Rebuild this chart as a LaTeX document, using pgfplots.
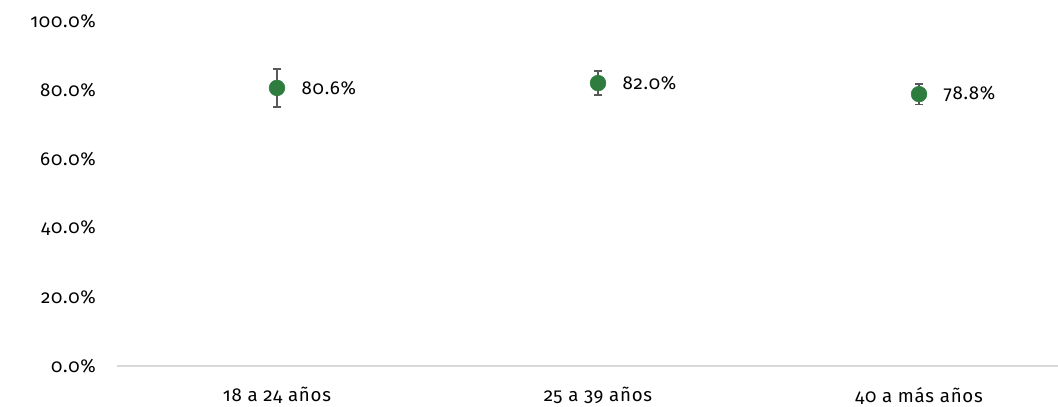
\documentclass[border=0pt]{standalone}
\usepackage{fontspec}
\setmainfont{Fira Sans}[Numbers=OldStyle, LetterSpace=4]
\usepackage{pgfplots}
\pgfplotsset{compat=1.18}
\definecolor{ptgreen}{HTML}{2E7D3F}
\definecolor{errgray}{HTML}{595959}
\definecolor{axgray}{HTML}{D9D9D9}
\newcommand{\lblfont}{\fontsize{14bp}{16bp}\selectfont}
\begin{document}
\begin{tikzpicture}
\path[use as bounding box] (0,0) rectangle (793.5bp,305.25bp);
\begin{axis}[
  at={(87.375bp,30.75bp)}, anchor=south west,
  scale only axis,
  width=706.125bp, height=258.75bp,
  xmin=-0.5, xmax=2.433,
  ymin=0, ymax=100,
  axis x line*=bottom,
  axis y line*=left,
  y axis line style={draw=none},
  x axis line style={draw=axgray, line width=1.2bp, -},
  xtick={0,1,2},
  xticklabels={18 a 24 años, 25 a 39 años, 40 a más años},
  ytick={0,20,40,60,80,100},
  yticklabels={0.0\%, 20.0\%, 40.0\%, 60.0\%, 80.0\%, 100.0\%},
  major tick length=0pt,
  ticklabel style={font=\lblfont, text=black},
  xticklabel style={yshift=-12.5bp},
  yticklabel style={xshift=-12bp},
  clip=false,
]
\addplot[only marks, mark=*, mark size=5.9bp, color=ptgreen,
  error bars/.cd, y dir=both, y explicit,
  error bar style={errgray, line width=1.4bp},
  error mark options={rotate=90, mark size=3.2bp, errgray, line width=1.4bp},
] coordinates {
  (0,80.6) +- (0,5.6)
  (1,82.0) +- (0,3.5)
  (2,78.8) +- (0,3.0)
};
\addplot[only marks, mark=none, draw=none,
  nodes near coords,
  point meta=explicit symbolic,
  every node near coord/.append style={anchor=west, xshift=15bp, yshift=0bp, font=\lblfont, text=black},
] coordinates {
  (0,80.6) [80.6\%]
  (1,82.0) [82.0\%]
  (2,78.8) [78.8\%]
};
\end{axis}
\end{tikzpicture}
\end{document}
